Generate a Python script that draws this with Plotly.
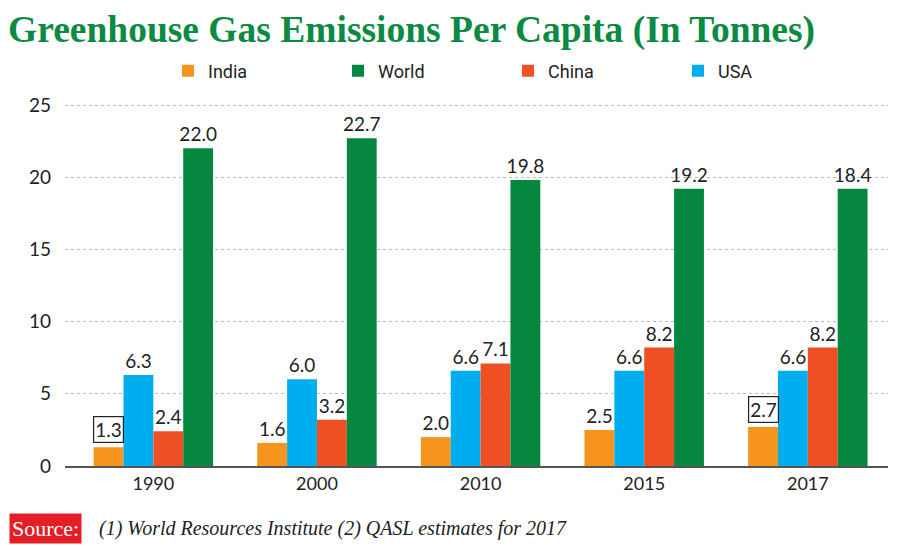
import plotly.graph_objects as go

years = ["1990", "2000", "2010", "2015", "2017"]
india = [1.3, 1.6, 2.0, 2.5, 2.7]
usa = [6.3, 6.0, 6.6, 6.6, 6.6]
china = [2.4, 3.2, 7.1, 8.2, 8.2]
world = [22.0, 22.7, 19.8, 19.2, 19.2]
world_labels = ["22.0", "22.7", "19.8", "19.2", "18.4"]
boxed_india = [0, 4]  # indices of India labels drawn with a box

colors = {"India": "#f7941d", "USA": "#00aeef", "China": "#ef5023", "World": "#05873f"}
label_font = dict(family="Lato", size=19, color="#222222")

india_text = ["" if i in boxed_india else f"{v:.1f}" for i, v in enumerate(india)]

fig = go.Figure()
series = [
    ("India", india, india_text, 1),
    ("USA", usa, [f"{v:.1f}" for v in usa], 4),
    ("China", china, [f"{v:.1f}" for v in china], 3),
    ("World", world, world_labels, 2),
]
for name, vals, txt, rank in series:
    fig.add_trace(go.Bar(
        name=name, x=years, y=vals, text=txt,
        textposition="outside", textfont=label_font, cliponaxis=False,
        constraintext="none",
        marker=dict(color=colors[name], line=dict(width=0)),
        legendrank=rank, hoverinfo="x+y+name",
    ))

# the page body adds an 8px offset, so figure coords = picture coords - 8
L, R, T, B = 57, 20, 92, 88
W, H = 900, 546
PW, PH = W - L - R, H - T - B
xr = [-0.54, 4.49]
cat_px = PW / (xr[1] - xr[0])
bargap = 0.27
bar_px = cat_px * (1 - bargap) / 4

annotations = []
for i in boxed_india:
    annotations.append(dict(
        x=i, y=india[i], xref="x", yref="y", text=f"{india[i]:.1f}",
        showarrow=False, yanchor="bottom", xshift=-1.5 * bar_px, yshift=4,
        font=label_font, bordercolor="#222222", borderwidth=1.2, borderpad=1,
        bgcolor="white",
    ))

src_y = (H - 520 - B) / PH
annotations.append(dict(
    x=(1 - L) / PW, y=src_y, xref="paper", yref="paper",
    xanchor="left", yanchor="middle",
    text="Source:", showarrow=False,
    font=dict(family="Liberation Serif", size=22, color="white"),
    bgcolor="#e31e24", borderpad=2,
))
annotations.append(dict(
    x=(89 - L) / PW, y=src_y, xref="paper", yref="paper",
    xanchor="left", yanchor="middle",
    text="<i>(1) World Resources Institute (2) QASL estimates for 2017</i>",
    showarrow=False,
    font=dict(family="Liberation Serif", size=20, color="#222222"),
))

fig.update_layout(
    width=W, height=H,
    margin=dict(l=L, r=R, t=T, b=B, autoexpand=False),
    paper_bgcolor="white", plot_bgcolor="white",
    barmode="group", bargap=bargap, bargroupgap=0,
    title=dict(
        text="<b>Greenhouse Gas Emissions Per Capita (In Tonnes)</b>",
        x=0, xanchor="left", y=1 - 21 / H, yanchor="middle",
        font=dict(family="Liberation Serif", size=37.5, color="#0b8a43"),
    ),
    legend=dict(
        orientation="h", x=(160 - L) / PW, xanchor="left",
        y=1 + (T - 63) / PH, yanchor="middle",
        entrywidth=125, entrywidthmode="pixels",
        font=dict(family="Roboto", size=18, color="#222222"),
        traceorder="normal", itemsizing="constant",
    ),
    xaxis=dict(
        range=xr, showgrid=False, showline=True, linecolor="#555555", linewidth=2,
        ticks="", tickfont=dict(family="Lato", size=18, color="#222222"),
        fixedrange=True,
    ),
    yaxis=dict(
        range=[0, PH / 14.44], tickvals=[0, 5, 10, 15, 20, 25],
        showgrid=True, gridcolor="#bbbbbb", griddash="dot", gridwidth=1,
        zeroline=False, showline=False, ticks="", ticklabelstandoff=13,
        tickfont=dict(family="Lato", size=19, color="#222222"),
    ),
    annotations=annotations,
    showlegend=True,
)

fig.write_html("out.html")
